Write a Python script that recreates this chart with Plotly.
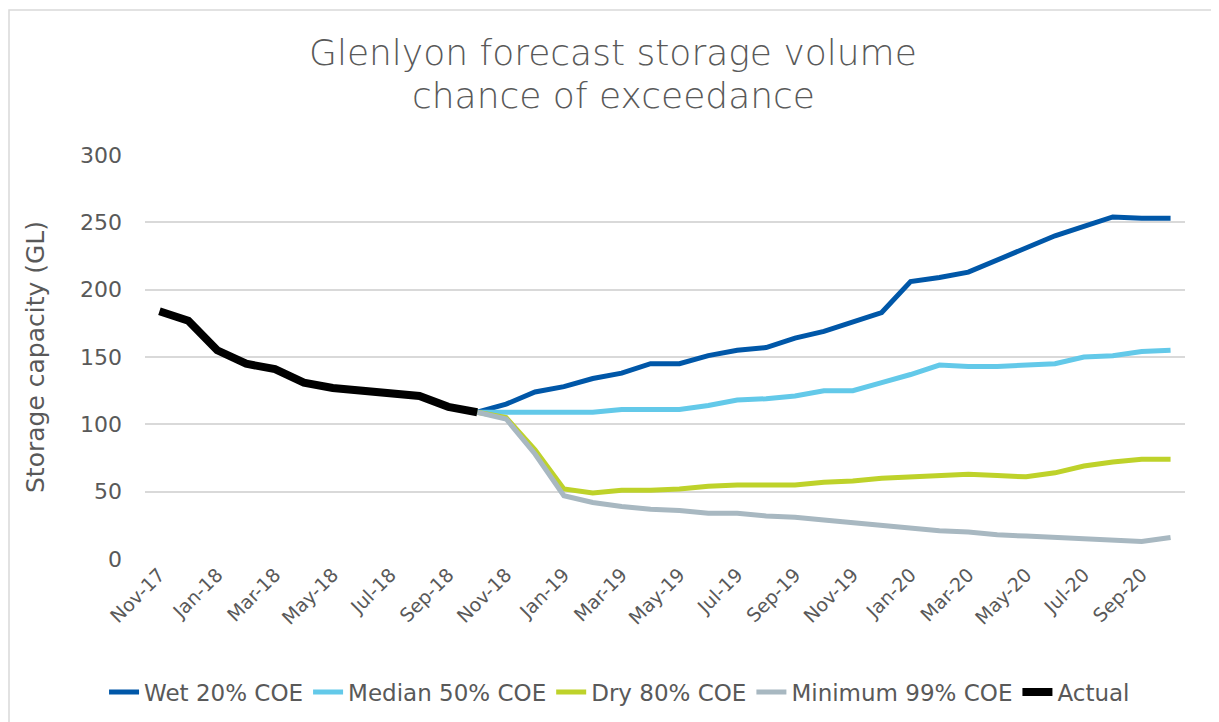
import plotly.graph_objects as go

months = ["Nov-17", "Dec-17", "Jan-18", "Feb-18", "Mar-18", "Apr-18", "May-18", "Jun-18",
          "Jul-18", "Aug-18", "Sep-18", "Oct-18", "Nov-18", "Dec-18", "Jan-19", "Feb-19",
          "Mar-19", "Apr-19", "May-19", "Jun-19", "Jul-19", "Aug-19", "Sep-19", "Oct-19",
          "Nov-19", "Dec-19", "Jan-20", "Feb-20", "Mar-20", "Apr-20", "May-20", "Jun-20",
          "Jul-20", "Aug-20", "Sep-20", "Oct-20"]

# actual storage up to Oct-18, forecasts from Oct-18 on
actual = [184, 177, 155, 145, 141, 131, 127, 125, 122, 121, 113, 109]
wet = [109, 115, 124, 128, 134, 138, 145, 145, 151, 155, 157, 164, 169, 176, 183,
       206, 209, 213, 222, 230, 240, 247, 254, 253, 253]
median = [109, 109, 109, 109, 109, 111, 111, 111, 114, 118, 119, 121, 125, 125, 131,
          137, 144, 143, 143, 144, 145, 150, 151, 154, 155]
dry = [109, 105, 81, 52, 49, 51, 51, 52, 54, 55, 55, 55, 57, 58, 60,
       61, 62, 63, 62, 61, 64, 69, 72, 74, 74]
minimum = [109, 104, 78, 47, 42, 39, 37, 36, 34, 34, 32, 31, 29, 27, 25,
           23, 21, 20, 18, 17, 16, 15, 14, 13, 16]

title_lines = ["Glenlyon forecast storage volume", "chance of exceedance"]

pad = [None] * 11
series = [
    ("Wet 20% COE", pad + wet, "#0057A8", 5),
    ("Median 50% COE", pad + median, "#63C9E9", 5),
    ("Dry 80% COE", pad + dry, "#BED22A", 5),
    ("Minimum 99% COE", pad + minimum, "#A8B8C1", 5),
    ("Actual", actual, "#000000", 8),
]

FONT = "DejaVu Sans, sans-serif"
GREY = "#595959"

fig = go.Figure()
for name, vals, color, w in series:
    fig.add_trace(go.Scatter(
        x=months[:len(vals)], y=vals, name=name, mode="lines",
        line=dict(color=color, width=w), connectgaps=False,
    ))

# two-line chart title
for txt, ypos in zip(title_lines, [1.2535, 1.147]):
    fig.add_annotation(text=txt, xref="paper", yref="paper", x=(605 - 137) / 1040, y=ypos,
                       xanchor="center", yanchor="middle", showarrow=False,
                       font=dict(size=36, color=GREY, family=FONT, weight=300))

fig.update_layout(
    width=1211, height=714,
    paper_bgcolor="white", plot_bgcolor="white",
    margin=dict(l=137, r=34, t=147, b=163),
    font=dict(family=FONT, color=GREY),
    xaxis=dict(
        type="category", categoryorder="array", categoryarray=months,
        range=[-0.5, len(months) - 0.5],
        tickvals=months[::2], ticktext=months[::2],
        tickangle=-45, tickfont=dict(size=19, color=GREY),
        showgrid=False, showline=False, zeroline=False, ticks="",
    ),
    yaxis=dict(
        range=[0, 300], dtick=50, showgrid=True, gridcolor="#D9D9D9", gridwidth=1.5,
        zeroline=False, showline=False, ticks="", ticklabelstandoff=22,
        tickfont=dict(size=22, color=GREY),
        title=dict(text="Storage capacity (GL)", font=dict(size=25, color=GREY), standoff=28),
    ),
    legend=dict(
        orientation="h", xref="container", yref="container",
        x=0.505, xanchor="center", y=0.042, yanchor="middle",
        font=dict(size=23, color=GREY), itemwidth=30, tracegroupgap=0,
    ),
    shapes=[dict(type="rect", xref="paper", yref="paper",
                 x0=-136 / 1040, x1=1071 / 1040, y0=-0.45, y1=1 + 145 / 404,
                 line=dict(color="#D9D9D9", width=1.5))],
)

fig.write_html("out.html")
